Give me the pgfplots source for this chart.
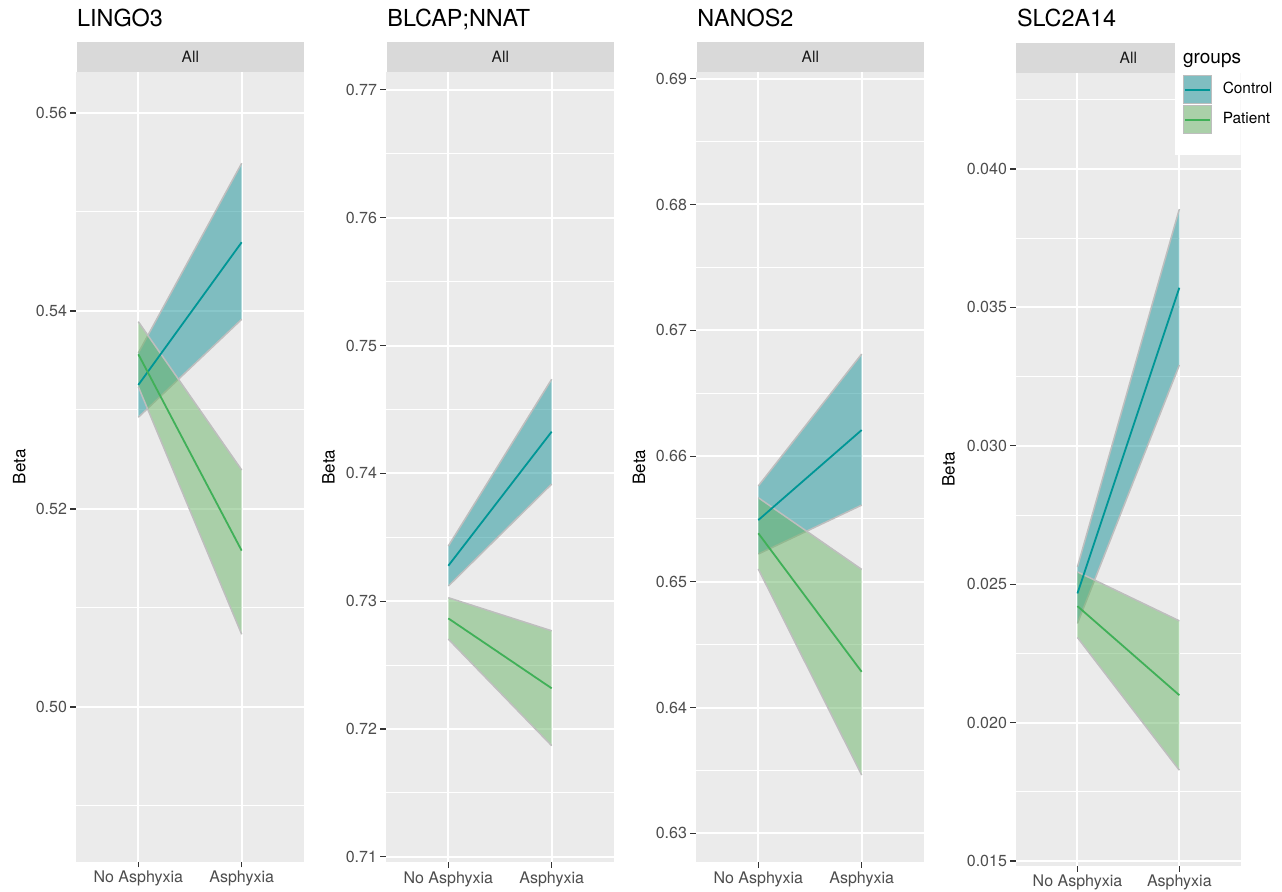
\documentclass[border=0pt]{standalone}
\usepackage{fontspec}
\setmainfont{TeX Gyre Heros}
\usepackage{pgfplots}
\pgfplotsset{compat=1.18}
\definecolor{panelbg}{HTML}{EBEBEB}
\definecolor{stripbg}{HTML}{D9D9D9}
\definecolor{tickgray}{HTML}{4D4D4D}
\definecolor{tickline}{HTML}{333333}
\definecolor{edgegray}{HTML}{BEBEBE}
\definecolor{ctlfill}{RGB}{21,145,151}
\definecolor{patfill}{RGB}{105,181,102}
\definecolor{ctlkey}{HTML}{80BEC1}
\definecolor{patkey}{HTML}{AAD0A9}
\definecolor{ctlline}{RGB}{0,150,150}
\definecolor{patline}{RGB}{64,176,88}
\pgfplotsset{
 panel/.style={
  scale only axis, width=113.7pt, height=395pt,
  xmin=-0.6, xmax=1.6, xtick={0,1}, xticklabels={No Asphyxia,Asphyxia},
  scaled y ticks=false,
  axis background/.style={fill=panelbg},
  axis line style={draw=none},
  xmajorgrids, ymajorgrids, yminorgrids,
  major grid style={white,line width=1pt},
  minor grid style={white,line width=0.5pt},
  tick align=outside, xtick pos=bottom, ytick pos=left,
  major tick length=3pt, minor tick length=0pt,
  major tick style={tickline,line width=0.55pt},
  ticklabel style={font=\fontsize{8}{9.6}\selectfont, text=tickgray},
  yticklabel style={inner sep=1.5pt},
  xticklabel style={inner sep=1.5pt},
  no markers,
 },
 ctlband/.style={fill=ctlfill, fill opacity=0.5, draw=none, forget plot},
 patband/.style={fill=patfill, fill opacity=0.5, draw=none, forget plot},
 edge/.style={edgegray, line width=0.75pt, forget plot},
 ctlmid/.style={ctlline, line width=0.9pt, forget plot},
 patmid/.style={patline, line width=0.9pt, forget plot},
}
\tikzset{
 strip/.style={fill=stripbg, inner sep=0pt, minimum height=15pt, anchor=south west, text=black!90, font=\fontsize{7.8}{9}\selectfont},
 ptitle/.style={anchor=base west, inner sep=0pt, font=\fontsize{11.7}{14}\selectfont},
 beta/.style={rotate=90, inner sep=0pt, font=\fontsize{8.5}{10}\selectfont},
}
\begin{document}
\begin{tikzpicture}[x=1pt,y=1pt]
\useasboundingbox (0,0) rectangle (641,445.5);
% ---------------- Panel 1: LINGO3
\begin{axis}[panel, at={(38.15pt,14.75pt)}, height=394.75pt,
  ymin=0.48439, ymax=0.56414,
  ytick={0.50,0.52,0.54,0.56}, yticklabels={0.50,0.52,0.54,0.56},
  minor ytick={0.49,0.51,0.53,0.55}]
\addplot[ctlband] coordinates {(0,0.52926) (1,0.53916) (1,0.55492) (0,0.53576)} --cycle;
\addplot[edge] coordinates {(0,0.52926) (1,0.53916)};
\addplot[edge] coordinates {(0,0.53576) (1,0.55492)};
\addplot[patband] coordinates {(0,0.53235) (1,0.50734) (1,0.52394) (0,0.53892)} --cycle;
\addplot[edge] coordinates {(0,0.53235) (1,0.50734)};
\addplot[edge] coordinates {(0,0.53892) (1,0.52394)};
\addplot[ctlmid] coordinates {(0,0.53253) (1,0.54694)};
\addplot[patmid] coordinates {(0,0.53563) (1,0.51579)};
\end{axis}
\node[strip, minimum width=113.7pt] at (38.15,409.5) {All};
\node[ptitle] at (38.35,432.2) {LINGO3};
\node[beta] at (9.6,212.1) {Beta};
% ---------------- Panel 2: BLCAP;NNAT
\begin{axis}[panel, at={(193.15pt,14.5pt)},
  ymin=0.70959, ymax=0.77140,
  ytick={0.71,0.72,0.73,0.74,0.75,0.76,0.77}, yticklabels={0.71,0.72,0.73,0.74,0.75,0.76,0.77},
  minor ytick={0.715,0.725,0.735,0.745,0.755,0.765}]
\addplot[ctlband] coordinates {(0,0.73118) (1,0.73916) (1,0.74736) (0,0.73431)} --cycle;
\addplot[edge] coordinates {(0,0.73118) (1,0.73916)};
\addplot[edge] coordinates {(0,0.73431) (1,0.74736)};
\addplot[patband] coordinates {(0,0.72703) (1,0.71869) (1,0.72768) (0,0.73027)} --cycle;
\addplot[edge] coordinates {(0,0.72703) (1,0.71869)};
\addplot[edge] coordinates {(0,0.73027) (1,0.72768)};
\addplot[ctlmid] coordinates {(0,0.73277) (1,0.74326)};
\addplot[patmid] coordinates {(0,0.72865) (1,0.72318)};
\end{axis}
\node[strip, minimum width=113.7pt] at (193.15,409.5) {All};
\node[ptitle] at (193.5,432.2) {BLCAP;NNAT};
\node[beta] at (164.3,212) {Beta};
% ---------------- Panel 3: NANOS2
\begin{axis}[panel, at={(348.15pt,14.5pt)},
  ymin=0.62773, ymax=0.69053,
  ytick={0.63,0.64,0.65,0.66,0.67,0.68,0.69}, yticklabels={0.63,0.64,0.65,0.66,0.67,0.68,0.69},
  minor ytick={0.635,0.645,0.655,0.665,0.675,0.685}]
\addplot[ctlband] coordinates {(0,0.65221) (1,0.65610) (1,0.66811) (0,0.65762)} --cycle;
\addplot[edge] coordinates {(0,0.65221) (1,0.65610)};
\addplot[edge] coordinates {(0,0.65762) (1,0.66811)};
\addplot[patband] coordinates {(0,0.65102) (1,0.63464) (1,0.65099) (0,0.65669)} --cycle;
\addplot[edge] coordinates {(0,0.65102) (1,0.63464)};
\addplot[edge] coordinates {(0,0.65669) (1,0.65099)};
\addplot[ctlmid] coordinates {(0,0.65491) (1,0.66207)};
\addplot[patmid] coordinates {(0,0.65386) (1,0.64285)};
\end{axis}
\node[strip, minimum width=113.7pt] at (348.15,409.5) {All};
\node[ptitle] at (348.5,432.2) {NANOS2};
\node[beta] at (319.5,212) {Beta};
% ---------------- Panel 4: SLC2A14
\fill[stripbg] (508.15,409) rectangle (587.5,424.15);
\node[inner sep=0pt, text=black!90, font=\fontsize{7.8}{9}\selectfont] at (564.2,416.6) {All};
\begin{axis}[panel, at={(508.15pt,12.75pt)}, width=112.1pt, height=396.25pt,
  ymin=0.014837, ymax=0.043469,
  ytick={0.015,0.020,0.025,0.030,0.035,0.040}, yticklabels={0.015,0.020,0.025,0.030,0.035,0.040},
  minor ytick={0.0175,0.0225,0.0275,0.0325,0.0375,0.0425},
  legend style={at={(0.7435,0.9973)}, anchor=north west, draw=none, fill=none,
    inner sep=0pt, outer sep=0pt, row sep=0.4pt,
    font=\fontsize{7.7}{9}\selectfont, nodes={inner sep=0pt, outer sep=0pt},
    /tikz/every odd column/.append style={column sep=5.3pt}},
  legend cell align=left]
\addplot[ctlband] coordinates {(0,0.023582) (1,0.032917) (1,0.038554) (0,0.025627)} --cycle;
\addplot[edge] coordinates {(0,0.023582) (1,0.032917)};
\addplot[edge] coordinates {(0,0.025627) (1,0.038554)};
\addplot[patband] coordinates {(0,0.023075) (1,0.018280) (1,0.023676) (0,0.025446)} --cycle;
\addplot[edge] coordinates {(0,0.023075) (1,0.018280)};
\addplot[edge] coordinates {(0,0.025446) (1,0.023676)};
\addplot[ctlmid] coordinates {(0,0.024666) (1,0.035710)};
\addplot[patmid] coordinates {(0,0.024207) (1,0.020990)};
\fill[white] (rel axis cs:0.7078,0.8965) rectangle (rel axis cs:1.01,1.01);
\addlegendimage{legend image code/.code={
  \draw[draw=edgegray, fill=ctlkey, line width=0.6pt] (0pt,-7pt) rectangle (14pt,7pt);
  \draw[ctlline, line width=0.9pt] (0.6pt,0pt) -- (13.4pt,0pt);}}
\addlegendentry{Control}
\addlegendimage{legend image code/.code={
  \draw[draw=edgegray, fill=patkey, line width=0.6pt] (0pt,-7pt) rectangle (14pt,7pt);
  \draw[patline, line width=0.9pt] (0.6pt,0pt) -- (13.4pt,0pt);}}
\addlegendentry{Patient}
\end{axis}
\node[ptitle] at (508.3,432.2) {SLC2A14};
\node[beta] at (474.3,211) {Beta};
\node[anchor=base west, inner sep=0pt, font=\fontsize{9.5}{11}\selectfont] at (591.35,413.85) {groups};
\end{tikzpicture}
\end{document}
